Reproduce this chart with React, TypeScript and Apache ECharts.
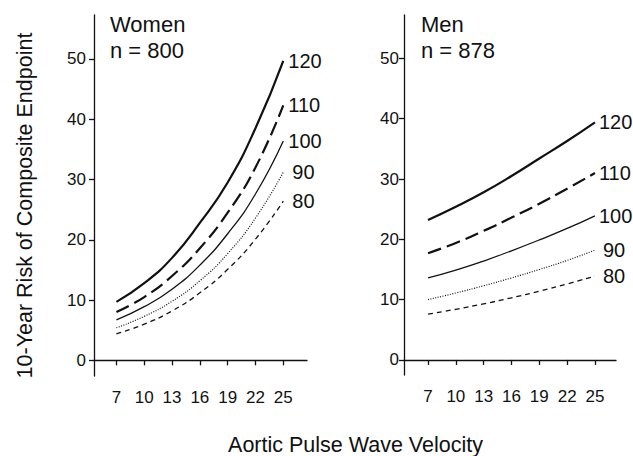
import React, { useEffect, useRef } from "react";
import * as echarts from "echarts";

const pwvTicks = [7, 10, 13, 16, 19, 22, 25];
const riskTicks = [0, 10, 20, 30, 40, 50];
const sbpLevels = ["120", "110", "100", "90", "80"];

const women120 = [9.7, 12.8, 17.0, 22.8, 29.5, 38.5, 49.7];
const women110 = [8.0, 10.5, 14.0, 18.6, 24.5, 32.0, 42.3];
const women100 = [6.7, 8.9, 11.8, 15.8, 21.0, 27.6, 36.4];
const women90 = [5.4, 7.3, 9.8, 13.2, 17.7, 23.6, 31.2];
const women80 = [4.4, 6.0, 8.2, 11.2, 15.1, 20.1, 26.4];

const men120 = [23.2, 25.4, 27.8, 30.5, 33.4, 36.3, 39.4];
const men110 = [17.7, 19.4, 21.4, 23.6, 25.9, 28.4, 31.0];
const men100 = [13.6, 14.9, 16.4, 18.1, 19.9, 21.8, 23.9];
const men90 = [10.0, 11.1, 12.3, 13.6, 15.0, 16.5, 18.2];
const men80 = [7.6, 8.4, 9.3, 10.3, 11.4, 12.6, 13.9];

const FONT = "'Liberation Sans', Arial, Helvetica, sans-serif";
const INK = "#111";

const lineStyles = [
  { width: 2.2, type: "solid" as any },
  { width: 2.2, type: [14, 6] as any },
  { width: 1.3, type: "solid" as any },
  { width: 1.2, type: [1, 1.5] as any },
  { width: 1.3, type: [5, 4] as any },
];

export default function App() {
  const ref = useRef<HTMLDivElement>(null);
  useEffect(() => {
    if (!ref.current) return;
    const chart = echarts.init(ref.current, undefined, { renderer: "svg" });

    const xAxisBase = (gridIndex: number, min: number, max: number) => ({
      type: "value",
      gridIndex,
      min,
      max,
      axisLine: { show: true, lineStyle: { color: INK, width: 1.3 } },
      axisTick: {
        show: true,
        customValues: pwvTicks,
        length: 5,
        lineStyle: { color: INK, width: 1.3 },
      },
      axisLabel: {
        customValues: pwvTicks,
        color: INK,
        fontSize: 17,
        fontFamily: FONT,
        margin: 13,
      },
      splitLine: { show: false },
    });
    const yAxisBase = (gridIndex: number, min: number, max: number, margin: number) => ({
      type: "value",
      gridIndex,
      min,
      max,
      axisLine: { show: true, lineStyle: { color: INK, width: 1.3 } },
      axisTick: {
        show: true,
        customValues: riskTicks,
        length: 5,
        lineStyle: { color: INK, width: 1.3 },
      },
      axisLabel: {
        customValues: riskTicks,
        color: INK,
        fontSize: 17,
        fontFamily: FONT,
        margin,
      },
      splitLine: { show: false },
    });

    const womenSets = [women120, women110, women100, women90, women80];
    const menSets = [men120, men110, men100, men90, men80];
    const womenDist = [5, 5, 5, 9, 9];
    const menDist = [4, 4, 4, 8, 8];

    const mk = (sets: number[][], idx: number, dists: number[]) =>
      sets.map((vals, i) => ({
        type: "line",
        xAxisIndex: idx,
        yAxisIndex: idx,
        smooth: true,
        showSymbol: false,
        symbol: "none",
        data: pwvTicks.map((x, j) => [x, vals[j]]),
        lineStyle: { color: INK, width: lineStyles[i].width, type: lineStyles[i].type },
        endLabel: {
          show: true,
          formatter: sbpLevels[i],
          color: INK,
          fontSize: 20,
          fontFamily: FONT,
          distance: dists[i],
        },
        emphasis: { disabled: true },
      }));

    chart.setOption({
      animation: false,
      grid: [
        { left: 94, top: 15, width: 213, height: 361 },
        { left: 404, top: 15, width: 212, height: 360 },
      ],
      xAxis: [xAxisBase(0, 4.58, 27.56), xAxisBase(1, 4.41, 27.27)],
      yAxis: [yAxisBase(0, -2.6, 57.3, 8), yAxisBase(1, -2.5, 57.2, 5)],
      series: [...mk(womenSets, 0, womenDist), ...mk(menSets, 1, menDist)],
      graphic: [
        { type: "text", x: 110, y: 24.5, style: { text: "Women", font: `22px ${FONT}`, fill: INK, verticalAlign: "middle" } },
        { type: "text", x: 110, y: 50.8, style: { text: "n = 800", font: `22px ${FONT}`, fill: INK, verticalAlign: "middle" } },
        { type: "text", x: 421, y: 24.5, style: { text: "Men", font: `22px ${FONT}`, fill: INK, verticalAlign: "middle" } },
        { type: "text", x: 421, y: 50.8, style: { text: "n = 878", font: `22px ${FONT}`, fill: INK, verticalAlign: "middle" } },
        {
          type: "text",
          x: 25,
          y: 205.5,
          rotation: Math.PI / 2,
          style: {
            text: "10-Year Risk of Composite Endpoint",
            font: `21.5px ${FONT}`,
            fill: INK,
            align: "center",
            verticalAlign: "middle",
          },
        },
        {
          type: "text",
          x: 355.5,
          y: 445,
          style: {
            text: "Aortic Pulse Wave Velocity",
            font: `21.5px ${FONT}`,
            fill: INK,
            align: "center",
            verticalAlign: "middle",
          },
        },
      ],
    });
    return () => chart.dispose();
  }, []);
  return (
    <div
      ref={ref}
      style={{ position: "fixed", left: 0, top: 0, width: 633, height: 456, background: "#fff" }}
    />
  );
}
